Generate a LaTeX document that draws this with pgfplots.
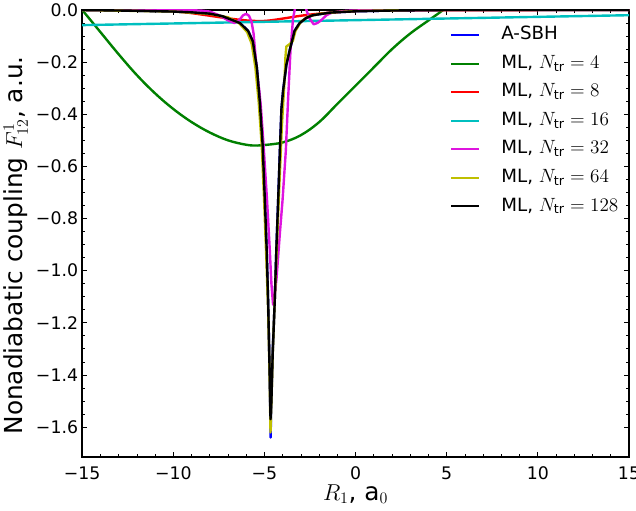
\documentclass[border=0pt]{standalone}
\usepackage{fontspec}
\setmainfont{DejaVu Sans}
\usepackage{pgfplots}
\pgfplotsset{compat=1.18}

\definecolor{mplb}{rgb}{0,0,1}
\definecolor{mplg}{rgb}{0,0.5,0}
\definecolor{mplr}{rgb}{1,0,0}
\definecolor{mplc}{rgb}{0,0.75,0.75}
\definecolor{mplm}{rgb}{0.87,0.08,0.87}
\definecolor{mply}{rgb}{0.75,0.75,0}

\begin{document}
\begin{tikzpicture}
\begin{axis}[
    name=ax,
    scale only axis,
    width=410.25pt, height=335.25pt,
    xmin=-15, xmax=15,
    ymin=-1.714, ymax=0,
    axis line style={line width=1.4pt},
    tick align=inside,
    major tick length=3.5pt, minor tick length=2pt,
    tick style={black, line width=0.6pt},
    xtick={-15,-10,-5,0,5,10,15},
    xticklabels={−15,−10,−5,0,5,10,15},
    ytick={0,-0.2,-0.4,-0.6,-0.8,-1.0,-1.2,-1.4,-1.6},
    yticklabels={0.0,−0.2,−0.4,−0.6,−0.8,−1.0,−1.2,−1.4,−1.6},
    minor x tick num=4,
    minor y tick num=3,
    ticklabel style={font=\fontsize{13}{15}\selectfont},
    xticklabel style={inner sep=0pt, yshift=-7.5pt},
    yticklabel style={xshift=0.4pt},
    label style={font=\fontsize{18.6}{22}\selectfont},
    xlabel={$R_1$, a$_0$},
    ylabel={Nonadiabatic coupling $F^{1}_{12}$, a.u.},
    xlabel style={at={([yshift=-32.5pt]rel axis cs:0.5,0)}, anchor=base, inner sep=0pt},
    ylabel style={at={([xshift=-50pt,yshift=-9pt]rel axis cs:0,0.5)}, anchor=center},
    legend cell align=left,
    legend image code/.code={\draw[#1, line width=1.6pt] (0pt,0pt) -- (21pt,0pt);},
    legend style={draw=none, fill=none, inner sep=0pt,
        at={(rel axis cs:0.672,0.9635)}, anchor=north west,
        font=\fontsize{13.7}{16}\selectfont,
        nodes={inner sep=0pt, text height=10pt, text depth=3pt},
        /tikz/every odd column/.append style={column sep=16pt},
        row sep=8.4pt},
    every axis plot/.append style={line width=1.8pt, line join=round},
]
% A-SBH
\addplot[mplb] coordinates {
(-15,0) (-12,-0.003) (-10,-0.006) (-9,-0.009) (-8,-0.014) (-7.3,-0.024)
(-6.35,-0.05) (-5.9,-0.08) (-5.64,-0.12) (-5.42,-0.22) (-5.26,-0.35)
(-5.1,-0.52) (-4.98,-0.73) (-4.88,-0.92) (-4.8,-1.12) (-4.72,-1.38)
(-4.68,-1.55) (-4.665,-1.64) (-4.64,-1.55) (-4.57,-1.34) (-4.44,-1.12)
(-4.35,-0.92) (-4.25,-0.73) (-4.15,-0.53) (-4.07,-0.38) (-3.98,-0.31)
(-3.8,-0.21) (-3.6,-0.15) (-3.35,-0.08) (-3.07,-0.05) (-2.7,-0.03)
(-2.35,-0.02) (-1.4,-0.01) (0,-0.005) (2,-0.002) (5,0) (15,0)
};
\addlegendentry{A-SBH}
% N=4
\addplot[mplg, smooth, tension=0.6] coordinates {
(-15,0) (-14,-0.085) (-13,-0.17) (-12,-0.25) (-11,-0.32) (-10,-0.38)
(-9,-0.43) (-8,-0.47) (-7,-0.5) (-6,-0.517) (-5.4,-0.52) (-5,-0.518)
(-4,-0.508) (-3,-0.48) (-2,-0.43) (-1,-0.36) (0,-0.29) (1,-0.22)
(2,-0.15) (3,-0.09) (4,-0.04) (4.8,0) (5.5,0.04)
};
\addlegendentry{ML, $N_{\mathrm{tr}}=4$}
% N=8
\addplot[mplr, smooth, tension=0.6] coordinates {
(-15,0) (-11,0) (-10,-0.004) (-9,-0.012) (-8,-0.022) (-7,-0.032)
(-6,-0.04) (-5,-0.042) (-4,-0.033) (-3,-0.022) (-2,-0.014) (-1,-0.008)
(0,-0.004) (2,-0.001) (15,0)
};
\addlegendentry{ML, $N_{\mathrm{tr}}=8$}
% N=16
\addplot[mplc] coordinates {(-15,-0.058) (15,-0.02)};
\addlegendentry{ML, $N_{\mathrm{tr}}=16$}
% N=32
\addplot[mplm] coordinates {
(-15,0) (-10,0) (-8.5,-0.002) (-8,-0.006) (-7.5,-0.02) (-7.0,-0.04)
(-6.65,-0.05) (-6.4,-0.04) (-6.17,-0.02) (-6.0,-0.015) (-5.85,-0.022)
(-5.71,-0.045) (-5.6,-0.09) (-5.5,-0.17) (-5.4,-0.25) (-5.3,-0.3)
(-5.2,-0.37) (-5.05,-0.52) (-4.86,-0.73) (-4.71,-0.92) (-4.62,-1.05)
(-4.53,-1.13) (-4.45,-1.1) (-4.34,-1.03) (-4.16,-0.86) (-4.01,-0.73)
(-3.83,-0.54) (-3.71,-0.35) (-3.57,-0.15) (-3.43,-0.03) (-3.3,0.015)
(-3.0,0.03) (-2.75,0.01) (-2.55,-0.03) (-2.3,-0.055) (-2.1,-0.05)
(-1.9,-0.04) (-1.6,-0.02) (-1.3,-0.01) (-0.5,-0.003) (1,0) (15,0)
};
\addlegendentry{ML, $N_{\mathrm{tr}}=32$}
% N=64
\addplot[mply] coordinates {
(-15,0) (-10,-0.006) (-8,-0.015) (-7,-0.028) (-6.4,-0.05) (-5.95,-0.085)
(-5.7,-0.13) (-5.5,-0.22) (-5.32,-0.35) (-5.15,-0.52) (-5.02,-0.73)
(-4.9,-0.95) (-4.8,-1.15) (-4.72,-1.4) (-4.67,-1.62) (-4.62,-1.5)
(-4.54,-1.3) (-4.43,-1.1) (-4.32,-0.9) (-4.2,-0.7) (-4.05,-0.45)
(-3.95,-0.33) (-3.9,-0.27) (-3.85,-0.18) (-3.8,-0.14) (-3.6,-0.13)
(-3.45,-0.12) (-3.3,-0.08) (-3.0,-0.045) (-2.6,-0.025) (-2,-0.015)
(-1,-0.008) (0,-0.004) (3,0) (15,0)
};
\addlegendentry{ML, $N_{\mathrm{tr}}=64$}
% N=128
\addplot[black] coordinates {
(-15,0) (-12,-0.003) (-10,-0.006) (-9,-0.009) (-8,-0.014) (-7.3,-0.024)
(-6.35,-0.05) (-5.9,-0.08) (-5.64,-0.12) (-5.42,-0.22) (-5.26,-0.35)
(-5.1,-0.52) (-4.98,-0.73) (-4.88,-0.92) (-4.8,-1.12) (-4.72,-1.38)
(-4.67,-1.57) (-4.62,-1.5) (-4.55,-1.32) (-4.44,-1.12) (-4.35,-0.92)
(-4.25,-0.73) (-4.15,-0.53) (-4.07,-0.38) (-3.98,-0.31) (-3.8,-0.21)
(-3.6,-0.15) (-3.35,-0.08) (-3.07,-0.05) (-2.7,-0.03) (-2.35,-0.02)
(-1.4,-0.01) (0,-0.005) (2,-0.002) (5,0) (15,0)
};
\addlegendentry{ML, $N_{\mathrm{tr}}=128$}
\end{axis}
\pgfresetboundingbox
\path[use as bounding box] ([xshift=-61.7pt,yshift=-40.5pt]ax.south west)
    rectangle ([xshift=5.25pt,yshift=7.5pt]ax.north east);
\end{tikzpicture}
\end{document}
